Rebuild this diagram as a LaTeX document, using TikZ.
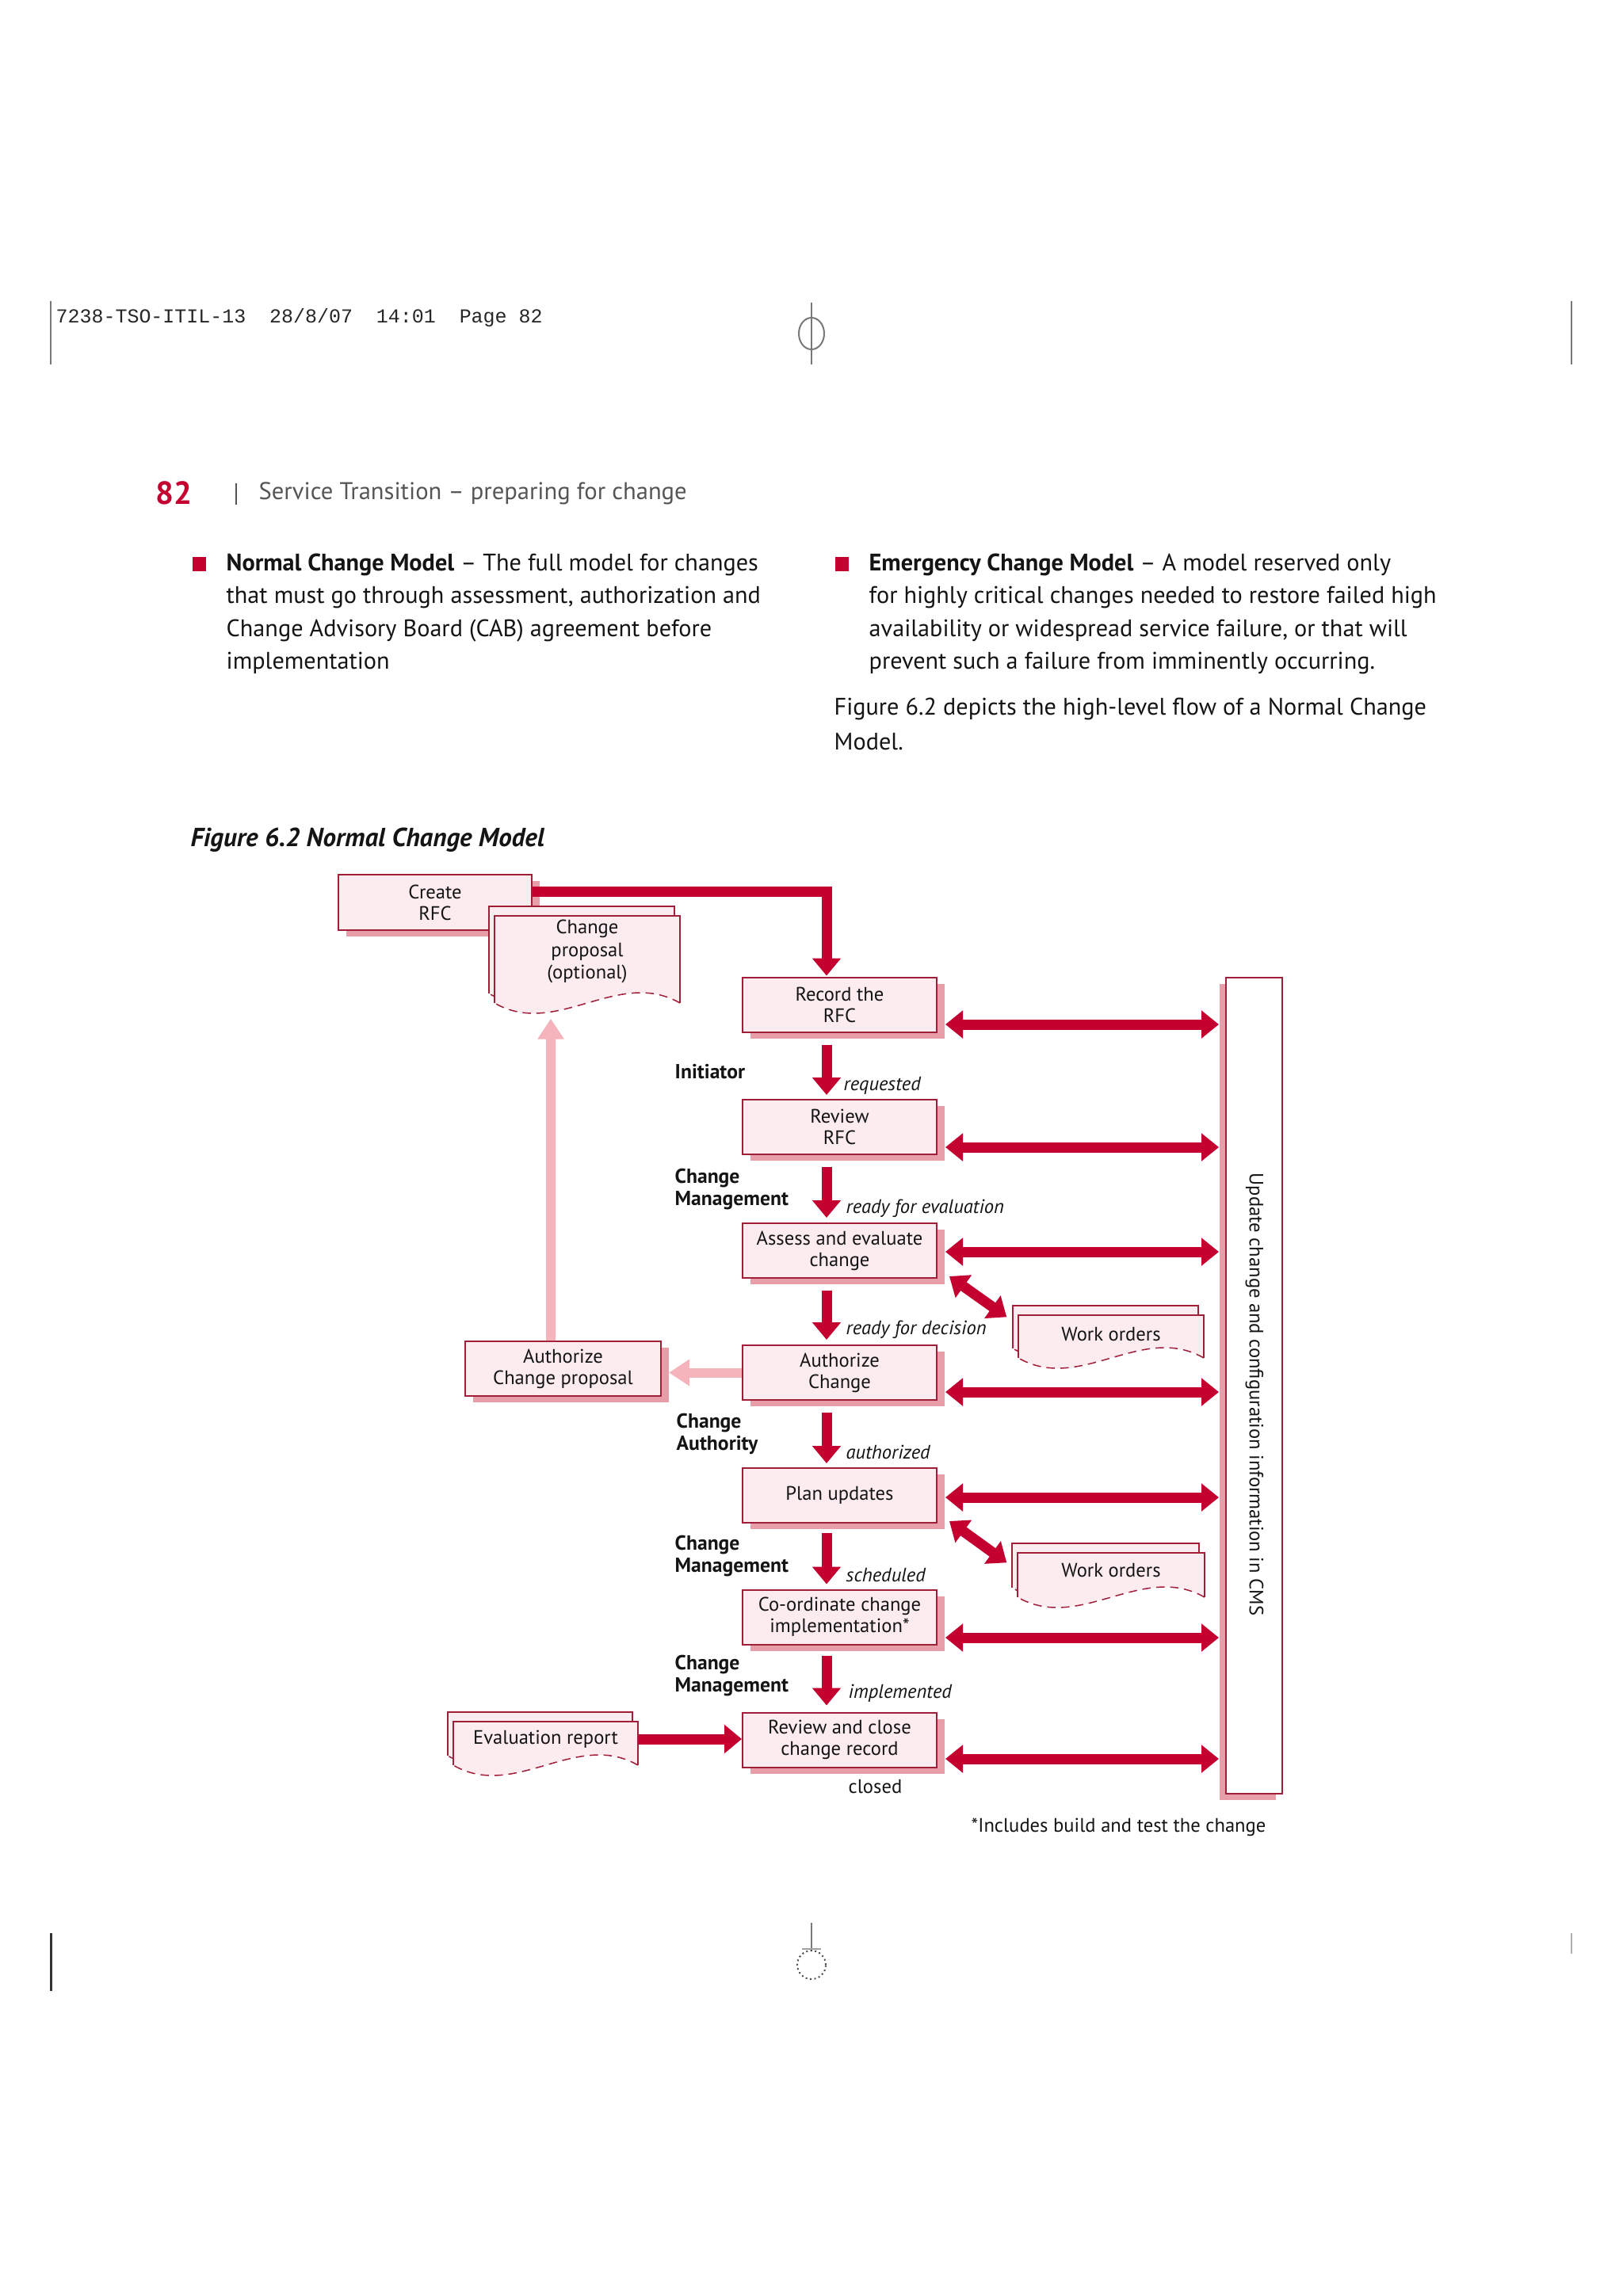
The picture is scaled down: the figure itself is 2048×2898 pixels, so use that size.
\documentclass[tikz,border=0pt]{standalone}
\usepackage{fontspec}
\setmainfont{PT Sans}
\setmonofont{Liberation Mono}
\usetikzlibrary{arrows.meta,shadows}
\definecolor{ired}{RGB}{196,0,48}
\definecolor{bfill}{RGB}{253,236,239}
\definecolor{bline}{RGB}{160,30,55}
\definecolor{shad}{RGB}{232,158,168}
\definecolor{lpink}{RGB}{245,180,188}
\definecolor{txt}{RGB}{20,20,20}
\definecolor{hgrey}{RGB}{85,85,85}
\definecolor{mgrey}{RGB}{120,120,120}
\newcommand{\ftbody}{\fontsize{8.6}{10}\selectfont}
\newcommand{\ftbox}{\fontsize{7}{7.7}\selectfont}
\newcommand{\ftdoc}{\fontsize{7}{8.2}\selectfont}
\newcommand{\ftrole}{\fontsize{7.3}{8}\selectfont\bfseries}
\newcommand{\ftstate}{\fontsize{7}{8}\selectfont\itshape}
\newcommand{\docsheet}[4]{%
  \fill[bfill] ({#1},{#2}) -- ({#3},{#2}) -- ({#3},{#4}) .. controls ({(#3)-((#3)-(#1))/3},{(#4)-45}) and ({(#1)+((#3)-(#1))/3},{(#4)+45}) .. ({#1},{#4}) -- cycle;
  \draw[bline,line width=0.18mm] ({#1},{#4}) -- ({#1},{#2}) -- ({#3},{#2}) -- ({#3},{#4});
  \draw[bline,line width=0.15mm,densely dashed] ({#3},{#4}) .. controls ({(#3)-((#3)-(#1))/3},{(#4)-45}) and ({(#1)+((#3)-(#1))/3},{(#4)+45}) .. ({#1},{#4});}
\newcommand{\docstack}[4]{\docsheet{#1-7}{#2-12}{#3-7}{#4-12}\docsheet{#1}{#2}{#3}{#4}}
\begin{document}
\begin{tikzpicture}[x=0.1mm,y=-0.1mm,
  mbox/.style={rectangle,draw=bline,line width=0.2mm,fill=bfill,align=center,font=\ftbox,text=txt,inner sep=0pt,
    minimum width=24.5mm,minimum height=6.9mm,
    drop shadow={shadow xshift=1mm,shadow yshift=-0.8mm,fill=shad,opacity=1}},
  flow/.style={draw=ired,line width=1.3mm,-{Triangle[length=2.2mm,width=3.5mm]}},
  dflow/.style={draw=ired,line width=1.3mm,{Triangle[length=2.2mm,width=3.4mm]}-{Triangle[length=2.2mm,width=3.4mm]}},
  lflow/.style={draw=lpink,line width=1.2mm,-{Triangle[length=2.6mm,width=3.2mm]}},
  role/.style={font=\ftrole,align=left,anchor=west,inner sep=0pt,text=txt},
  state/.style={font=\ftstate,anchor=west,inner sep=0pt,text=txt},
  doctext/.style={font=\ftdoc,align=center,inner sep=0pt,text=txt},
  body/.style={font=\ftbody,anchor=west,inner sep=0pt,text=txt}]
\useasboundingbox (0,0) rectangle (2048,2898);
\fill[white] (0,0) rectangle (2048,2898);

% crop marks
\draw[mgrey,line width=0.2mm] (64,380) -- (64,460);
\draw[mgrey,line width=0.2mm] (1983,380) -- (1983,460);
\draw[mgrey,line width=0.2mm] (1024,382) -- (1024,460);
\draw[mgrey,line width=0.2mm] (1024,421) ellipse[x radius=1.6mm,y radius=2mm];
\draw[black!80,line width=0.3mm] (64,2440) -- (64,2513);
\draw[mgrey!60,line width=0.2mm] (1983,2440) -- (1983,2466);
\draw[mgrey,line width=0.2mm] (1024,2427) -- (1024,2463);
\draw[mgrey!70,line width=0.15mm] (1012,2460) -- (1036,2460);
\draw[black!70,line width=0.2mm,densely dotted] (1024,2480) circle[radius=1.8mm];

% slug line
\node[anchor=west,inner sep=0pt,font=\ttfamily\fontsize{7.1}{8}\selectfont,text=black!85] (slug) at (70,401) {7238-TSO-ITIL-13\ \ 28/8/07\ \ 14:01\ \ Page 82};

% running head
\node[anchor=west,inner sep=0pt,font=\fontsize{11.5}{12}\selectfont\bfseries,text=ired] (pnum) at (196,622) {82};
\draw[hgrey,line width=0.15mm] (298,610) -- (298,637);
\node[anchor=west,inner sep=0pt,font=\fontsize{8.7}{10}\selectfont,text=hgrey] (rhead) at (326,623) {Service Transition – preparing for change};

% body text
\fill[ired] (243,703) rectangle (260,721);
\fill[ired] (1054,703) rectangle (1071,721);
\node[body] (l1) at (285,713) {\textbf{Normal Change Model} – The full model for changes};
\node[body] (l2) at (285,754) {that must go through assessment, authorization and};
\node[body] (l3) at (285,796) {Change Advisory Board (CAB) agreement before};
\node[body] (l4) at (285,837) {implementation};
\node[body] (r1) at (1096,713) {\textbf{Emergency Change Model} – A model reserved only};
\node[body] (r2) at (1096,754) {for highly critical changes needed to restore failed high};
\node[body] (r3) at (1096,796) {availability or widespread service failure, or that will};
\node[body] (r4) at (1096,837) {prevent such a failure from imminently occurring.};
\node[body] (f1) at (1052,895) {Figure 6.2 depicts the high-level flow of a Normal Change};
\node[body] (f2) at (1052,936) {Model.};

\node[anchor=west,inner sep=0pt,font=\fontsize{9.4}{10}\selectfont\bfseries\itshape,text=txt] (figcap) at (240,1060) {Figure 6.2 Normal Change Model};

% ---------- diagram ----------
\node[mbox,minimum width=24.4mm,minimum height=7mm] (create) at (549,1139) {Create\\RFC};
\docstack{624}{1156}{858}{1266}
\node[doctext,minimum width=23.4mm,minimum height=16.8mm] (cp) at (741,1201) {Change\\proposal\\(optional)};

\node[mbox] (record) at (1059.5,1268) {Record the\\RFC};
\node[mbox] (review) at (1059.5,1422.5) {Review\\RFC};
\node[mbox] (assess) at (1059.5,1578.5) {Assess and evaluate\\change};
\node[mbox] (authc) at (1059.5,1732.5) {Authorize\\Change};
\node[mbox] (plan) at (1059.5,1887.5) {Plan updates};
\node[mbox] (coord) at (1059.5,2041) {Co-ordinate change\\implementation*};
\node[mbox] (close) at (1059.5,2196) {Review and close\\change record};
\node[mbox,minimum width=24.7mm] (authp) at (710.5,1727.5) {Authorize\\Change proposal};
\coordinate (aptip) at ([xshift=0.9mm]authp.east);

\docstack{1285}{1660}{1519}{1714}
\node[doctext,minimum width=23.4mm,minimum height=4.8mm] (wo1) at (1402,1684) {Work orders};
\docstack{1284}{1960}{1520}{2016}
\node[doctext,minimum width=23.6mm,minimum height=4.4mm] (wo2) at (1402,1982) {Work orders};
\docstack{572}{2173}{805}{2228}
\node[doctext,minimum width=23.3mm] (ev) at (688.5,2195) {Evaluation report};

\node[rectangle,draw=bline,line width=0.2mm,fill=white,minimum width=7.1mm,minimum height=103mm,inner sep=0pt,
  drop shadow={shadow xshift=-0.8mm,shadow yshift=-0.8mm,fill=shad,opacity=1}] (cms) at (1582.5,1748.5) {};
\node[rotate=-90,inner sep=0pt,font=\ftbox,text=txt] (cmstext) at (1583,1760) {Update change and configuration information in CMS};

% roles and states
\node[role] (rl1) at (851,1353) {Initiator};
\node[role] (rl2) at (851,1501) {Change\\Management};
\node[role] (rl3) at (853,1810) {Change\\Authority};
\node[role] (rl4) at (851,1964) {Change\\Management};
\node[role] (rl5) at (851,2115) {Change\\Management};
\node[state] (s1) at (1064,1370) {requested};
\node[state] (s2) at (1067,1525) {ready for evaluation};
\node[state] (s3) at (1067,1678) {ready for decision};
\node[state] (s4) at (1067,1833) {authorized};
\node[state] (s5) at (1067,1988) {scheduled};
\node[state] (s6) at (1070,2137) {implemented};
\node[state,font=\ftbox] (s7) at (1070,2255) {closed};

\node[anchor=west,inner sep=0pt,font=\ftbox,text=txt] (foot) at (1225,2306) {*Includes build and test the change};

% flow arrows
\draw[flow] ([yshift=1.4mm]create.east) -| ([xshift=-1.65mm,yshift=0.1mm]record.north);
\draw[flow] ([shift={(-16.5,15)}]record.south) -- ([shift={(-16.5,-5)}]review.north);
\draw[flow] ([shift={(-16.5,15)}]review.south) -- ([shift={(-16.5,-6)}]assess.north);
\draw[flow] ([shift={(-16.5,15)}]assess.south) -- ([shift={(-16.5,-6)}]authc.north);
\draw[flow] ([shift={(-16.5,15)}]authc.south) -- ([shift={(-16.5,-5)}]plan.north);
\draw[flow] ([shift={(-16.5,12)}]plan.south) -- ([shift={(-16.5,-6)}]coord.north);
\draw[flow] ([shift={(-16.5,13)}]coord.south) -- ([shift={(-16.5,-8)}]close.north);
\draw[flow] (ev.east) -- (ev.east -| close.west);

% to CMS
\draw[dflow,shorten >=0.8mm] ([shift={(10,25)}]record.east) coordinate (c1) -- (c1 -| cms.west);
\draw[dflow,shorten >=0.8mm] ([shift={(10,25.5)}]review.east) coordinate (c2) -- (c2 -| cms.west);
\draw[dflow,shorten >=0.8mm] ([shift={(10,1.5)}]assess.east) coordinate (c3) -- (c3 -| cms.west);
\draw[dflow,shorten >=0.8mm] ([shift={(10,24.5)}]authc.east) coordinate (c4) -- (c4 -| cms.west);
\draw[dflow,shorten >=0.8mm] ([shift={(10,2.5)}]plan.east) coordinate (c5) -- (c5 -| cms.west);
\draw[dflow,shorten >=0.8mm] ([shift={(10,26)}]coord.east) coordinate (c6) -- (c6 -| cms.west);
\draw[dflow,shorten >=0.8mm] ([shift={(10,24)}]close.east) coordinate (c7) -- (c7 -| cms.west);

% work orders
\draw[dflow] ([shift={(15,-3)}]assess.south east) -- ([shift={(-14,3)}]wo1.north west);
\draw[dflow] ([shift={(15,-3)}]plan.south east) -- ([shift={(-13,13)}]wo2.north west);

% change proposal loop
\draw[lflow] (authc.west) -- (authc.west -| aptip);
\draw[lflow] ([xshift=-1.55mm]authp.north) -- ([xshift=-4.6mm]cp.south);
\end{tikzpicture}
\end{document}
